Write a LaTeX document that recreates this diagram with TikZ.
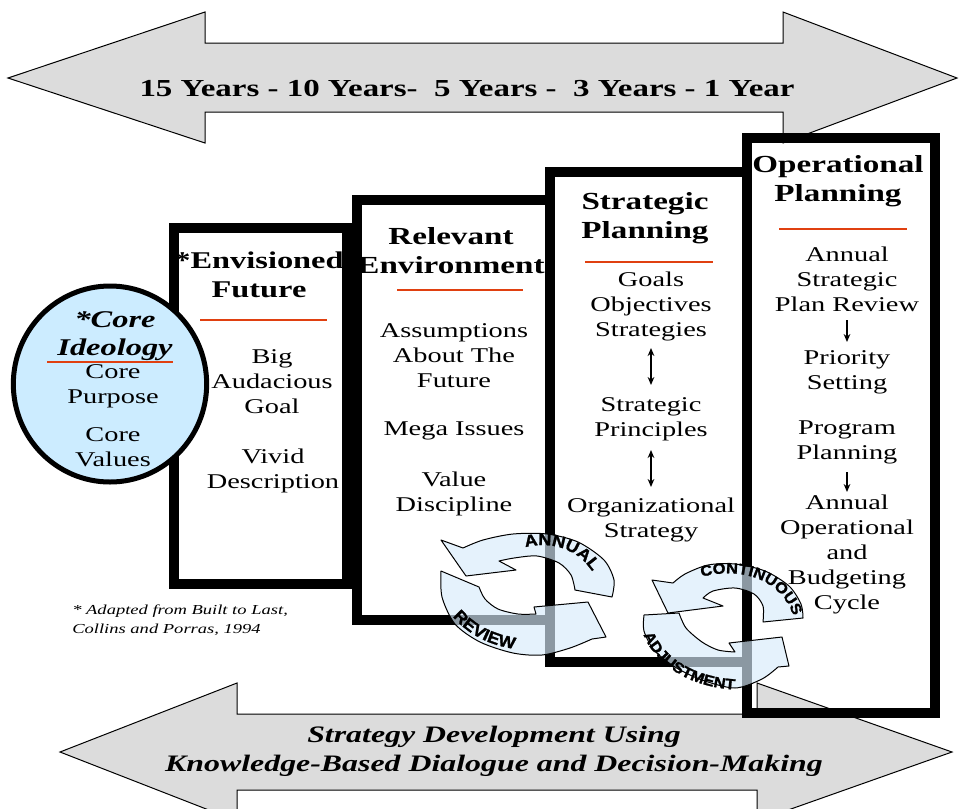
\documentclass[tikz,border=0pt]{standalone}
\usepackage{fontspec}
\setmainfont{Liberation Serif}[FakeStretch=1.35]
\newfontfamily\cycfont{Liberation Sans}[FakeStretch=1.1,FakeBold=1.5]
\usetikzlibrary{decorations.text,arrows.meta}
\definecolor{arrgray}{RGB}{220,220,220}
\definecolor{circblue}{RGB}{204,236,255}
\definecolor{redline}{RGB}{224,64,16}
\definecolor{cycblue}{RGB}{215,235,250}
\begin{document}
\begin{tikzpicture}[x=0.75pt,y=-0.75pt,
  bigarrow/.style={fill=arrgray,draw=black,line width=0.75pt,line join=miter},
  frame/.style={draw=black,line width=7.5pt,line join=miter},
  hdr/.style={font=\fontsize{18.4}{21.8}\selectfont\bfseries,align=center,inner sep=0pt},
  body/.style={font=\fontsize{15.75}{18.75}\selectfont,align=center,inner sep=0pt},
  redrule/.style={draw=redline,line width=1.4pt},
  cyc/.style={fill=cycblue,fill opacity=0.65,draw=black,line width=0.75pt,line join=round},
  cyctext/.style 2 args={decorate,decoration={text along path,text align=center,
     text={|\cycfont\bfseries\fontsize{#1}{12}\selectfont|#2}}},
  smallarrow/.style={draw=black,line width=1.1pt,-{Stealth[length=6pt,width=5pt]}},
  dblarrow/.style={draw=black,line width=1.1pt,{Stealth[length=6pt,width=5pt]}-{Stealth[length=6pt,width=5pt]}}
]
\useasboundingbox (0,0) rectangle (961,808);
\clip (0,0) rectangle (961,808);

% top double arrow
\path[bigarrow] (8,78) -- (205,12) -- (205,43) -- (783,43) -- (783,12) -- (957,78)
  -- (783,143) -- (783,112) -- (205,112) -- (205,143) -- cycle;
\node[font=\fontsize{18.3}{20}\selectfont\bfseries,inner sep=0pt] (toptext) at (467,88)
  {15 Years - 10 Years-\ \ 5 Years -\ \ 3 Years - 1 Year};

% bottom double arrow
\path[bigarrow] (60,752) -- (237,683) -- (237,714) -- (757,714) -- (757,683) -- (952,752)
  -- (757,821) -- (757,790) -- (237,790) -- (237,821) -- cycle;
\node[font=\fontsize{17.7}{21.75}\selectfont\bfseries\itshape,align=center,inner sep=0pt] (bottext) at (494,751)
  {Strategy Development Using\\Knowledge-Based Dialogue and Decision-Making};

% frames
\draw[frame] (174,228) rectangle (347,584);
\draw[frame] (357,200) rectangle (550,620);
\draw[frame] (550,172) rectangle (747,662);
\draw[frame] (747,138) rectangle (935,713);

% core ideology circle (drawn over the left edge of the first frame)
\draw[fill=circblue,draw=black,line width=3.75pt] (110,384) ellipse [x radius=72.5pt,y radius=73.5pt];
\node[font=\fontsize{18}{21}\selectfont\bfseries\itshape,align=center,inner sep=0pt] (coreid) at (115,336) {*Core\\Ideology};
\draw[redrule] (47,362) -- (173,362);
\node[body] (corepurp) at (113,386) {Core\\Purpose};
\node[body] (coreval) at (113,447.5) {Core\\Values};

% box 1
\node[hdr,font=\fontsize{18}{21.8}\selectfont\bfseries] (h1) at (259,275) {*Envisioned\\Future};
\draw[redrule] (200,320) -- (327,320);
\node[body] (b1a) at (272,382) {Big\\Audacious\\Goal};
\node[body] (b1b) at (273,470.5) {Vivid\\Description};

% box 2
\node[hdr] (h2) at (451,251) {Relevant\\Environment};
\draw[redrule] (397,290) -- (523,290);
\node[body] (b2a) at (454,356) {Assumptions\\About The\\Future};
\node[body] (b2b) at (454,431) {Mega Issues};
\node[body] (b2c) at (454,493.5) {Value\\Discipline};

% box 3
\node[hdr] (h3) at (645,218) {Strategic\\Planning};
\draw[redrule] (585,262) -- (713,262);
\node[body] (b3a) at (651,306.5) {Goals\\Objectives\\Strategies};
\node[body] (b3b) at (651,419.5) {Strategic\\Principles};
\node[body] (b3c) at (651,519.5) {Organizational\\Strategy};
\coordinate (d1a) at (651,348);
\coordinate (d1b) at (651,385);
\coordinate (d2a) at (651,450);
\coordinate (d2b) at (651,487);
\draw[dblarrow] (d1a) -- (d1b);
\draw[dblarrow] (d2a) -- (d2b);

% box 4
\node[hdr] (h4) at (838,181.5) {Operational\\Planning};
\draw[redrule] (779,229) -- (907,229);
\node[body] (b4a) at (847,279) {Annual\\Strategic\\Plan Review};
\node[body] (b4b) at (847,372.5) {Priority\\Setting};
\node[body] (b4c) at (847,442.5) {Program\\Planning};
\node[body] (b4d) at (847,554) {Annual\\Operational\\and\\Budgeting\\Cycle};
\coordinate (s1a) at (847,320);
\coordinate (s1b) at (847,342);
\coordinate (s2a) at (847,472);
\coordinate (s2b) at (847,492);
\draw[smallarrow] (s1a) -- (s1b);
\draw[smallarrow] (s2a) -- (s2b);

% footnote
\node[anchor=west,align=left,inner sep=0pt,font=\fontsize{10.3}{14.25}\selectfont\itshape] (foot) at (72,620)
  {* Adapted from Built to Last,\\Collins and Porras, 1994};

% annual review cycle
\path[cyc] plot[smooth] coordinates {(612,597) (614,580) (604,560) (578,542) (547,534) (513,534) (483,540) (463,548)}
  -- (441,540) -- (466,576) -- (516,570) -- (499,561)
  -- plot[smooth] coordinates {(499,561) (514,558) (537,556) (559,563) (571,575) (575,590)} -- cycle;
\path[cyc] plot[smooth] coordinates {(441,571) (442,597) (455,624) (480,642) (513,653) (542,655) (570,648) (592,639)}
  -- (606,637) -- (588,602) -- (534,607)
  -- plot[smooth] coordinates {(536,614) (518,614) (498,609) (485,599) (479,587)} -- cycle;
\path[cyctext={12.3}{ANNUAL}]
  (514,551) .. controls (546,538) and (582,546) .. (598,582);
\path[cyctext={12.3}{REVIEW}]
  (441,598) .. controls (456,630) and (490,651) .. (536,650);

% continuous adjustment cycle
\path[cyc] plot[smooth] coordinates {(803,618) (801,604) (789,586) (765,571) (735,564) (708,565) (685,574) (673,583)}
  -- (652,580) -- (668,613) -- (723,606) -- (703,598)
  -- plot[smooth] coordinates {(703,598) (713,591) (735,588) (754,594) (763,606) (763,622)} -- cycle;
\path[cyc] plot[smooth] coordinates {(644,615) (644,631) (654,650) (675,667) (702,680) (735,688) (762,679) (778,667)}
  -- (789,666) -- (782,637) -- (729,643)
  -- plot[smooth] coordinates {(735,652) (718,650) (702,642) (686,628) (679,613)} -- cycle;
\path[cyctext={11.2}{CONTINUOUS}]
  (686,582) .. controls (735,562) and (790,576) .. (797,632);
\path[cyctext={11.2}{ADJUSTMENT}]
  (640,624) .. controls (650,664) and (690,690) .. (746,690);
\end{tikzpicture}
\end{document}
